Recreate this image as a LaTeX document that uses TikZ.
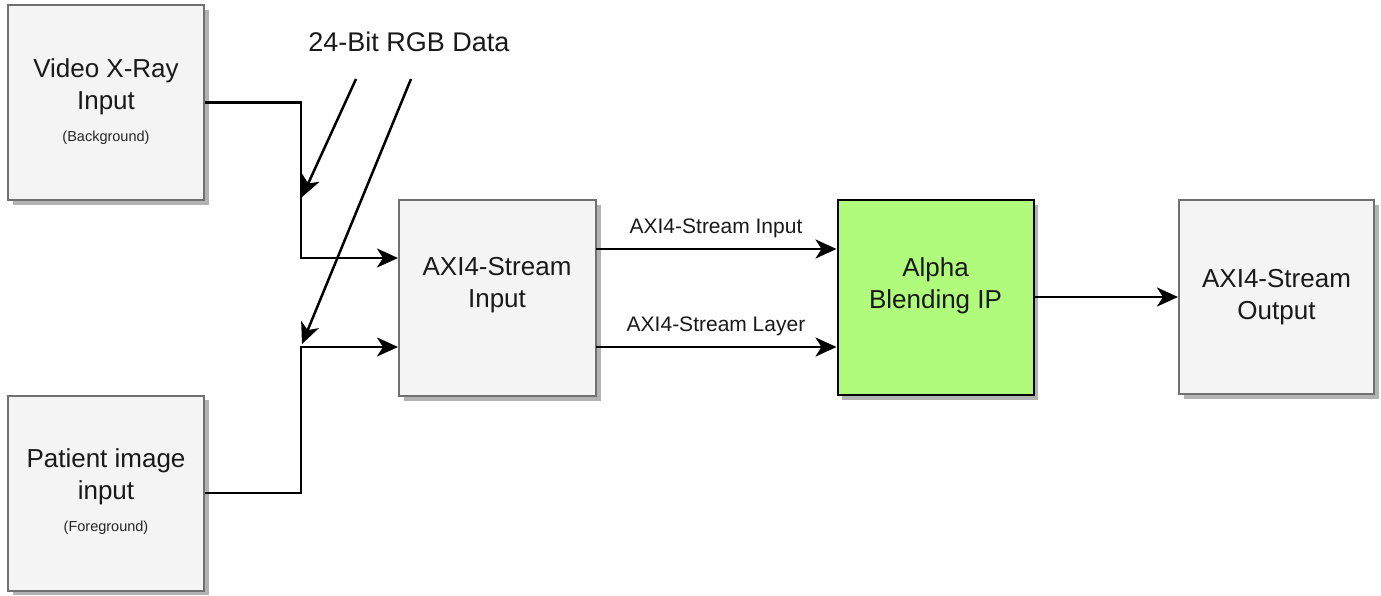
\documentclass[tikz,border=0pt]{standalone}
\usepackage{fontspec}
\setmainfont{Liberation Sans}
\usetikzlibrary{arrows.meta,shadows}
\definecolor{boxfill}{HTML}{F4F4F4}
\definecolor{boxline}{HTML}{707070}
\definecolor{alphagreen}{HTML}{B0FA7C}
\begin{document}
\begin{tikzpicture}[x=1pt,y=-1pt,
  box/.style={draw=boxline,fill=boxfill,line width=2pt,inner sep=0pt,
    minimum width=196pt,minimum height=195pt,
    drop shadow={shadow xshift=4.5pt,shadow yshift=-4.5pt,fill=black!30,opacity=1}},
  gbox/.style={box,draw=black,fill=alphagreen},
  big/.style={align=center,font=\fontsize{26}{32}\selectfont,text=black!90},
  small/.style={font=\fontsize{14.5}{16}\selectfont,text=black!85},
  elab/.style={font=\fontsize{21}{24}\selectfont,text=black!90},
  arr/.style={line width=2.5pt,-{Stealth[length=21pt,width=19pt,inset=6pt]}}]
\useasboundingbox (0,0) rectangle (1381,595);
% boxes
\node[box] (vid) at (106,102.5) {};
\node[big] (vidt) at (106,87) {Video X-Ray\\Input};
\node[small] (vids) at (106,138) {(Background)};
\node[box] (pat) at (106,493) {};
\node[big] (patt) at (106,477) {Patient image\\input};
\node[small] (pats) at (106,528) {(Foreground)};
\node[box,minimum width=197pt,minimum height=196pt] (axi) at (497.5,298) {};
\node[big] (axit) at (497,285) {AXI4-Stream\\Input};
\node[gbox] (alpha) at (935.5,297.5) {};
\node[big] (alphat) at (935.5,286) {Alpha\\Blending IP};
\node[box,minimum width=195pt,minimum height=194pt] (out) at (1276.5,297) {};
\node[big] (outt) at (1276.5,297) {AXI4-Stream\\Output};
% label
\node[font=\fontsize{27}{30}\selectfont,text=black!90] (rgb) at (409,42) {24-Bit RGB Data};
% junctions
\coordinate (j1) at (301,258);
\coordinate (j2) at (301,347);
\draw[arr] (vid.east) -| (j1) -- (j1 -| axi.west);
\draw[arr] (pat.east) -| (j2) -- (j2 -| axi.west);
% diagonals
\coordinate (d1s) at (356,79);
\coordinate (d1e) at (302,197);
\coordinate (d2s) at (411,79);
\coordinate (d2e) at (302,344);
\draw[arr] (d1s) -- (d1e);
\draw[arr] (d2s) -- (d2e);
% streams
\coordinate (s1) at (596,249);
\coordinate (s2) at (596,347);
\draw[arr] (s1) -- (s1 -| alpha.west);
\draw[arr] (s2) -- (s2 -| alpha.west);
\node[elab] (l1) at (716,228) {AXI4-Stream Input};
\node[elab] (l2) at (716,326) {AXI4-Stream Layer};
\coordinate (s3) at (1034,297);
\draw[arr] (s3) -- (s3 -| out.west);
\end{tikzpicture}
\end{document}
